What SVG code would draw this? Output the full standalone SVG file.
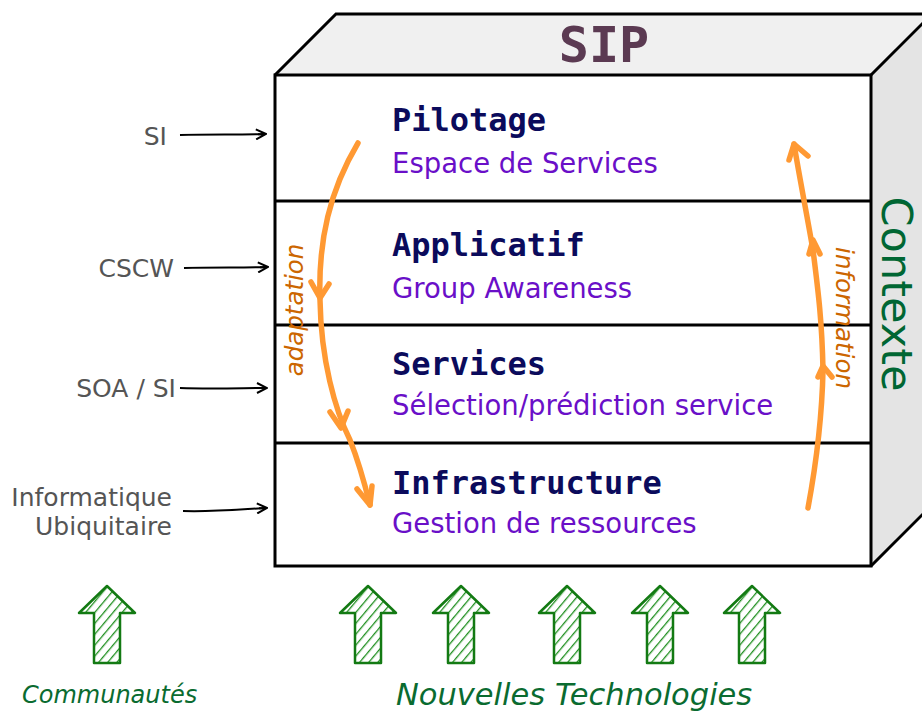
<svg xmlns="http://www.w3.org/2000/svg" width="922" height="711" viewBox="0 0 922 711">
<defs>
<style>
.edge{fill:none;stroke:#000;stroke-width:3;stroke-linejoin:miter}
.lbl{font-family:"DejaVu Sans",Verdana,sans-serif;font-size:25px;fill:#555;text-anchor:end}
.ttl{font-family:"DejaVu Sans Mono",monospace;font-weight:bold;font-size:32px;fill:#0b0b5c}
.sub{font-family:"DejaVu Sans",Verdana,sans-serif;font-size:27.5px;fill:#6a0fc8}
.la{fill:none;stroke:#000;stroke-width:2;marker-end:url(#open)}
.orange{fill:none;stroke:#ff9933;stroke-width:5.5;stroke-linecap:round;stroke-linejoin:round}
.otxt{font-family:"DejaVu Sans",Verdana,sans-serif;font-style:italic;font-size:24.5px;fill:#cc6600}
.garrow{fill:url(#hatch);stroke:#137a13;stroke-width:2.5;stroke-linejoin:round}
.gtxt{font-family:"DejaVu Sans",Verdana,sans-serif;font-style:italic;fill:#0a6b30}
</style>
<marker id="open" viewBox="0 0 12 12" refX="11" refY="6" markerWidth="12" markerHeight="12" markerUnits="userSpaceOnUse" orient="auto">
<path d="M1,1 L11,6 L1,11 M3,6 L11,6" fill="none" stroke="#000" stroke-width="2"/>
</marker>
<pattern id="hatch" patternUnits="userSpaceOnUse" width="7" height="7" patternTransform="rotate(40)">
<rect width="7" height="7" fill="#fff"/>
<line x1="0" y1="0" x2="0" y2="7" stroke="#1f8f1f" stroke-width="2.6"/>
</pattern>
<path id="uparrow" d="M0,0 L28,27 L13,27 L13,77 L-13,77 L-13,27 L-28,27 Z"/>
</defs>

<g id="cube">
<polygon points="275,75 336,14 932,14 871,75" fill="#f0f0f0"/>
<polygon points="871,75 932,14 932,505 871,566" fill="#e4e4e4"/>
<polyline class="edge" points="275,75 336,14 932,14"/>
<polyline class="edge" points="871,75 932,14"/>
<polyline class="edge" points="871,566 932,505"/>
<rect x="275" y="75" width="596" height="491" fill="#fff" stroke="#000" stroke-width="3"/>
<text x="604" y="62" text-anchor="middle" font-family="DejaVu Sans Mono,monospace" font-weight="bold" font-size="50" fill="#5b3a52">SIP</text>
<text transform="translate(882,294) rotate(90)" text-anchor="middle" font-family="DejaVu Sans,Verdana,sans-serif" font-size="43" fill="#006633">Contexte</text>
</g>

<g id="layer-pilotage">
<text class="ttl" x="392" y="131">Pilotage</text>
<text class="sub" x="392" y="173">Espace de Services</text>
</g>
<g id="layer-applicatif">
<line x1="275" y1="201" x2="871" y2="201" stroke="#000" stroke-width="3"/>
<text class="ttl" x="392" y="256">Applicatif</text>
<text class="sub" x="392" y="298">Group Awareness</text>
</g>
<g id="layer-services">
<line x1="275" y1="325" x2="871" y2="325" stroke="#000" stroke-width="3"/>
<text class="ttl" x="392" y="375">Services</text>
<text class="sub" x="392" y="415">Sélection/prédiction service</text>
</g>
<g id="layer-infrastructure">
<line x1="275" y1="443" x2="871" y2="443" stroke="#000" stroke-width="3"/>
<text class="ttl" x="392" y="494">Infrastructure</text>
<text class="sub" x="392" y="533">Gestion de ressources</text>
</g>

<g id="label-si"><text class="lbl" x="167" y="145">SI</text></g>
<g id="label-cscw"><text class="lbl" x="174" y="277">CSCW</text></g>
<g id="label-soa"><text class="lbl" x="176" y="397">SOA / SI</text></g>
<g id="label-ubi"><text class="lbl" x="172" y="506">Informatique</text><text class="lbl" x="172" y="535">Ubiquitaire</text></g>

<g id="connectors">
<path class="la" d="M180,135 C210,134 240,135 266,134"/>
<path class="la" d="M184,268 C215,267 245,268 268,267"/>
<path class="la" d="M180,388 C210,389 245,388 267,388"/>
<path class="la" d="M183,511 C215,512 245,509 267,508"/>

<path class="orange" d="M358,143 C330,190 318,240 320,300 C321,360 335,410 350,440 C358,460 365,485 370,505"/>
<path class="orange" d="M311,282 L320,298 L329,284"/>
<path class="orange" d="M330,412 L341,428 L348,411"/>
<path class="orange" d="M357,489 L370,505 L372,486"/>
<text class="otxt" transform="translate(303,310) rotate(-90)" text-anchor="middle">adaptation</text>

<path class="orange" d="M808,508 C815,470 822,420 823,370 C822,320 818,290 813,250 C806,210 800,180 794,144"/>
<path class="orange" d="M818,377 L823,366 L832,377"/>
<path class="orange" d="M809,254 L813,240 L820,254"/>
<path class="orange" d="M789,160 L794,144 L808,156"/>
<text class="otxt" transform="translate(836,318) rotate(90)" text-anchor="middle">information</text>
</g>

<g id="green-arrows">
<use href="#uparrow" class="garrow" x="107" y="586"/>
<use href="#uparrow" class="garrow" x="368" y="586"/>
<use href="#uparrow" class="garrow" x="461" y="586"/>
<use href="#uparrow" class="garrow" x="567" y="586"/>
<use href="#uparrow" class="garrow" x="660" y="586"/>
<use href="#uparrow" class="garrow" x="752" y="586"/>
</g>
<g id="bottom-labels">
<text class="gtxt" x="22" y="703" font-size="24">Communautés</text>
<text class="gtxt" x="396" y="705" font-size="30.5">Nouvelles Technologies</text>
</g>
</svg>
